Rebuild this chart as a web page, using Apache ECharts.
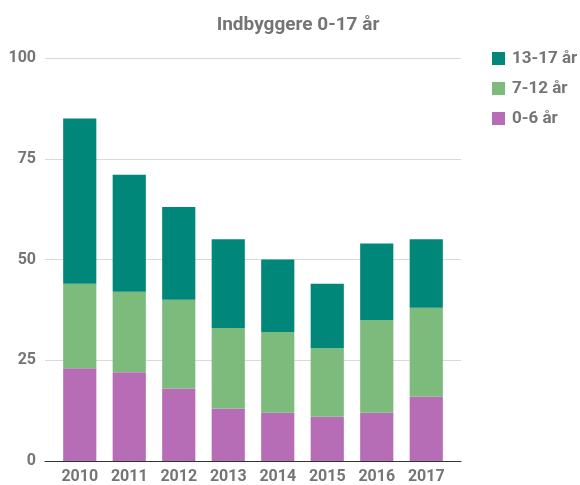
<!DOCTYPE html>
<html>
<head>
<meta charset="utf-8">
<script src="https://cdn.jsdelivr.net/npm/echarts@6/dist/echarts.min.js"></script>
<style>
html,body{margin:0;padding:0;background:#fff;}
#chart{width:580px;height:485px;}
</style>
</head>
<body>
<div id="chart"></div>
<script>
// data
let years=['2010','2011','2012','2013','2014','2015','2016','2017'];
let age0_6=[23,22,18,13,12,11,12,16];
let age7_12=[21,20,22,20,20,17,23,22];
let age13_17=[41,29,23,22,18,16,19,17];
let yTicks=[0,25,50,75,100];

let grey='#757575';
let font='Roboto';

var myChart=echarts.init(document.getElementById('chart'));
option={
    title:{
        text:'Indbyggere 0-17 år',
        left:293,
        textAlign:'center',
        top:11,
        textStyle:{color:grey,fontSize:19,fontWeight:'bold',fontFamily:font}
    },
    legend:{
        orient:'vertical',
        left:487,
        top:45,
        itemWidth:13,
        itemHeight:13,
        itemGap:13,
        icon:'rect',
        data:['13-17 år','7-12 år','0-6 år'],
        textStyle:{color:grey,fontSize:17,lineHeight:17,fontWeight:'bold',fontFamily:font,padding:[0,0,0,2]}
    },
    //外层网格画线, 内层网格画柱
    grid:[
        {left:45,right:119,top:58,bottom:24},
        {left:55,right:129,top:58,bottom:24}
    ],
    xAxis:[
        {
            type:'category',
            gridIndex:0,
            data:years,
            axisTick:{show:false},
            axisLabel:{show:false},
            axisLine:{lineStyle:{color:'#333',width:1}}
        },
        {
            type:'category',
            gridIndex:1,
            data:years,
            axisTick:{show:false},
            axisLine:{show:false},
            axisLabel:{color:grey,fontSize:16,fontWeight:'bold',fontFamily:font,margin:8}
        }
    ],
    yAxis:[
        {
            type:'value',
            gridIndex:0,
            min:yTicks[0],
            max:yTicks[yTicks.length-1],
            interval:25,
            axisLabel:{color:grey,fontSize:16,fontWeight:'bold',fontFamily:font,margin:9},
            splitLine:{lineStyle:{color:'#d9d9d9'}}
        },
        {
            type:'value',
            gridIndex:1,
            min:yTicks[0],
            max:yTicks[yTicks.length-1],
            interval:25,
            show:false,
            splitLine:{show:false}
        }
    ],
    series:[
        {name:'0-6 år',type:'bar',stack:'total',xAxisIndex:1,yAxisIndex:1,barWidth:'67%',data:age0_6,itemStyle:{color:'#B66DB6'}},
        {name:'7-12 år',type:'bar',stack:'total',xAxisIndex:1,yAxisIndex:1,data:age7_12,itemStyle:{color:'#7CBB7B'}},
        {name:'13-17 år',type:'bar',stack:'total',xAxisIndex:1,yAxisIndex:1,data:age13_17,itemStyle:{color:'#00877A'}}
    ]
};
myChart.setOption(option);
</script>
</body>
</html>
